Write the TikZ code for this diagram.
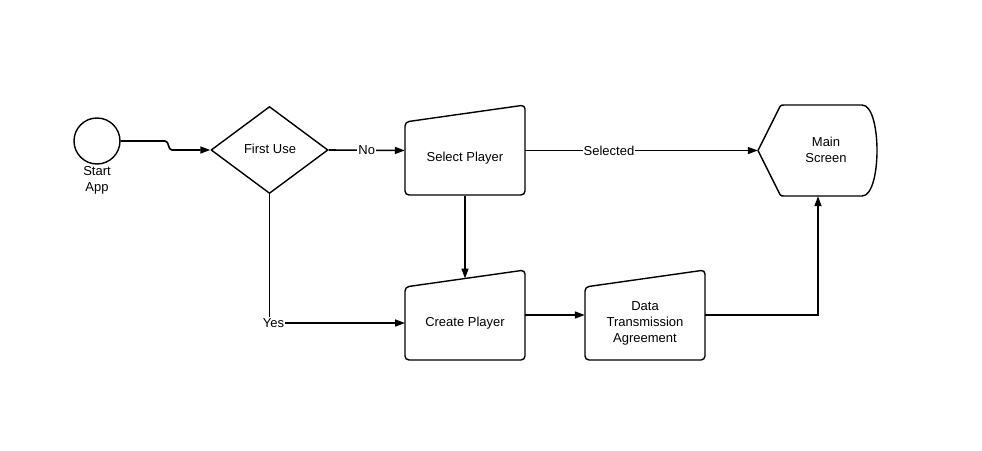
\documentclass[tikz,border=0pt]{standalone}
\usepackage{fontspec}
\setmainfont{Liberation Sans}
\usetikzlibrary{shapes.geometric,arrows.meta}
\begin{document}
\begin{tikzpicture}[x=1pt,y=-1pt,
  every node/.style={font=\fontsize{13}{16}\selectfont},
  shp/.style={draw=black, line width=1.4pt, rounded corners=4pt, line join=round},
  box/.style={draw=none, rectangle, minimum width=120pt, minimum height=90pt, inner sep=0pt},
  txt/.style={align=center, inner sep=0pt},
  arr/.style={line width=1.6pt, -{Triangle[length=10pt,width=7pt]}},
  lbl/.style={fill=white, inner sep=1pt}]
\useasboundingbox (0,0) rectangle (982,450);

% Start
\node[circle, draw, line width=1.4pt, minimum size=46pt, inner sep=0pt] (start) at (97,141) {};
\node[txt] (startlbl) at (97,180.5) {Start\\App};

% First Use diamond
\node[diamond, draw, line width=1.4pt, minimum width=117pt, minimum height=87pt, inner sep=0pt, line join=round] (fu) at (269.5,150) {};
\node[txt] (futxt) at (270,149) {First Use};

% Select Player
\node[box] (sp) at (465,150.5) {};
\draw[shp] (405,195) -- (405,122) -- (525,105) -- (525,195) -- cycle;
\node[txt] (sptxt) at (465,158) {Select Player};

% Create Player
\node[box] (cp) at (465,315) {};
\draw[shp] (405,360) -- (405,287) -- (525,270) -- (525,360) -- cycle;
\node[txt] (cptxt) at (465,323) {Create Player};
\coordinate (cptop) at (465,278.5);
\coordinate (yesend) at (405,323);

% Data Transmission Agreement
\node[box] (dt) at (645,315) {};
\draw[shp] (585,360) -- (585,287) -- (705,270) -- (705,360) -- cycle;
\node[txt] (dttxt) at (645,323) {Data\\Transmission\\Agreement};

% Main Screen
\node[box, minimum height=91pt] (ms) at (818,150.5) {};
\draw[line width=1.4pt, line join=round]
  (758,150.5) -- (780,106.5) to[out=60,in=180] (784,105) -- (862,105)
  .. controls (882,105) and (882,196) .. (862,196)
  -- (784,196) to[out=180,in=-60] (780,194.5) -- cycle;
\node[txt] (mstxt) at (826,150) {Main\\Screen};

% Connectors
\draw[arr] (start.east) -- (165,141) to[out=0,in=180] (172,150) -- (fu.west);
\draw[arr] (fu.east) -- node[lbl, pos=0.5] {No} (sp.west);
\draw[arr] (sp.east) -- node[lbl, pos=0.36] {Selected} (ms.west);
\draw[arr] (sp.south) -- (cptop);
\draw[arr] (fu.south) |- node[lbl, pos=0.5, xshift=4pt] {Yes} (yesend);
\draw[arr] (cp.east) -- (dt.west);
\draw[arr] (dt.east) -| (ms.south);
\end{tikzpicture}
\end{document}
